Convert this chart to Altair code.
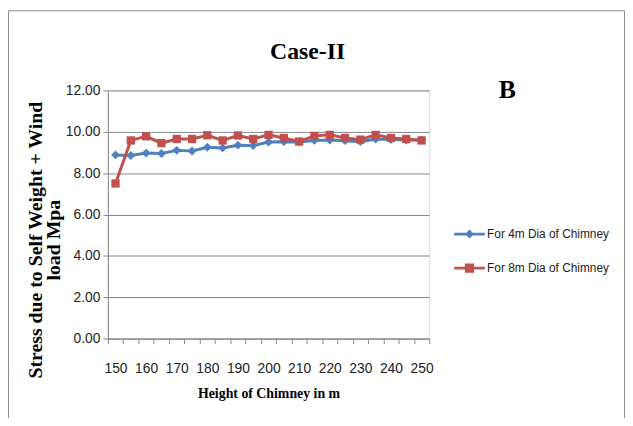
import altair as alt
import pandas as pd

# ---- data ----
heights = [150, 155, 160, 165, 170, 175, 180, 185, 190, 195, 200,
           205, 210, 215, 220, 225, 230, 235, 240, 245, 250]
stress_4m = [8.88, 8.85, 8.97, 8.95, 9.10, 9.07, 9.25, 9.22, 9.35, 9.33, 9.50,
             9.52, 9.50, 9.58, 9.60, 9.57, 9.52, 9.65, 9.62, 9.60, 9.60]
stress_8m = [7.50, 9.58, 9.78, 9.45, 9.65, 9.65, 9.83, 9.58, 9.82, 9.65, 9.85,
             9.70, 9.53, 9.80, 9.85, 9.70, 9.62, 9.85, 9.70, 9.65, 9.58]
series_names = ["For 4m Dia of Chimney", "For 8m Dia of Chimney"]
series_colors = ["#4F81BD", "#C0504D"]
y_ticks = [0, 2, 4, 6, 8, 10, 12]
x_bounds = [147.5 + 5 * k for k in range(22)]  # category boundaries (tick marks)

rows = []
for h, a, b in zip(heights, stress_4m, stress_8m):
    rows.append({"height": h, "stress": a, "series": series_names[0]})
    rows.append({"height": h, "stress": b, "series": series_names[1]})
df = pd.DataFrame(rows)

W, H = 325, 251
cat_w = W / 21.0
LABEL_FONT = "Liberation Sans, Arial"
SERIF = "Liberation Serif, Times New Roman, serif"
GRID = "#868686"

blue_path = "M-2,-0.18H2V0.18H-2Z M0,-0.58L0.58,0L0,0.58L-0.58,0Z"
red_path = "M-2,-0.18H2V0.18H-2Z M-0.6,-0.6H0.6V0.6H-0.6Z"

cscale = alt.Scale(domain=series_names, range=series_colors)
sscale = alt.Scale(domain=series_names, range=[blue_path, red_path])

x_enc = alt.X(
    "height:Q",
    scale=alt.Scale(domain=[147.5, 252.5], nice=False, zero=False),
    axis=alt.Axis(
        values=x_bounds,
        labelExpr="(datum.value + 2.5) % 10 == 0 ? format(datum.value + 2.5, 'd') : ''",
        labelOffset=cat_w / 2,
        labelFlush=False,
        labelOverlap=False,
        labelBound=False,
        labelFont=LABEL_FONT,
        labelFontSize=14,
        labelColor="#222222",
        labelPadding=18,
        tickSize=5,
        tickColor=GRID,
        domainColor=GRID,
        grid=False,
        title="Height of Chimney in m",
        titleFont=SERIF,
        titleFontSize=14,
        titleFontWeight="bold",
        titleColor="#000000",
        titlePadding=12,
    ),
)

y_enc = alt.Y(
    "stress:Q",
    scale=alt.Scale(domain=[0, 12], nice=False),
    axis=alt.Axis(
        values=y_ticks,
        format=".2f",
        grid=True,
        gridColor=GRID,
        tickSize=5,
        tickColor=GRID,
        domainColor=GRID,
        labelFont=LABEL_FONT,
        labelFontSize=14,
        labelColor="#222222",
        labelPadding=3,
        title=["Stress due to Self Weight + Wind", "load Mpa"],
        titleFont=SERIF,
        titleFontSize=20,
        titleFontWeight="bold",
        titleColor="#000000",
        titleLineHeight=18,
        titleAngle=-90,
        titleAlign="center",
        titleBaseline="bottom",
        titleX=-63,
        titleY=151,
    ),
)

base = alt.Chart(df)

legend = alt.Legend(
    title=None,
    orient="none",
    legendX=357.75,
    legendY=137.25,
    padding=0,
    symbolSize=240,
    symbolStrokeWidth=0,
    symbolOpacity=1,
    labelFont=LABEL_FONT,
    labelFontSize=12,
    labelLimit=0,
    labelColor="#222222",
    labelOffset=9.75,
    rowPadding=20.5,
)

def series_layers(name, color, shape, size):
    sub = base.transform_filter(alt.datum.series == name)
    line = sub.mark_line(strokeWidth=3, color=color).encode(x=x_enc, y=y_enc)
    pts = sub.mark_point(filled=True, shape=shape, size=size, opacity=1, color=color).encode(
        x=x_enc, y=y_enc)
    return [line, pts]

legend_layer = base.transform_filter("false").mark_point(filled=True, size=240, opacity=1).encode(
    x=x_enc, y=y_enc,
    color=alt.Color("series:N", scale=cscale, legend=legend),
    shape=alt.Shape("series:N", scale=sscale, legend=legend),
)

one = alt.Data(values=[{}])
frame = alt.Chart(one).mark_rect(fillOpacity=0, stroke="#8c8c8c", strokeWidth=1).encode(
    x=alt.value(-100.5), x2=alt.value(522.5), y=alt.value(-80.5), y2=alt.value(400))
title = alt.Chart(one).mark_text(
    text="Case-II", font=SERIF, fontSize=24, fontWeight="bold", color="#000000",
    align="center", baseline="alphabetic").encode(x=alt.value(202), y=alt.value(-32))
letter = alt.Chart(one).mark_text(
    text="B", font=SERIF, fontSize=26, fontWeight="bold", color="#000000",
    align="center", baseline="alphabetic").encode(x=alt.value(404), y=alt.value(8))

layers = [frame, title, letter]
layers += series_layers(series_names[0], series_colors[0], "diamond", 80)
layers += series_layers(series_names[1], series_colors[1], "square", 70)
layers += [legend_layer]

chart = alt.layer(*layers).properties(
    width=W, height=H,
    autosize=alt.AutoSizeParams(type="none"),
    padding={"left": 101, "top": 81, "right": 198, "bottom": 78},
).configure_view(stroke=None).configure(background="white")

chart.save("out.html", embed_options={"renderer": "svg", "actions": False})
